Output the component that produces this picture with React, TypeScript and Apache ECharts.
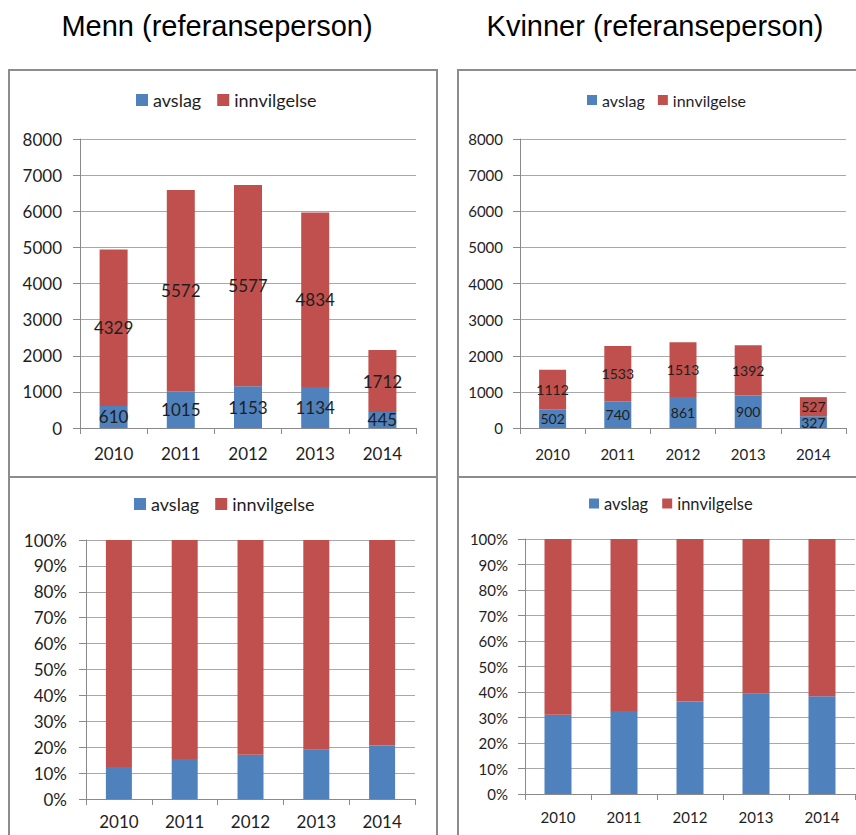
import React, { useEffect, useRef } from "react";
import * as echarts from "echarts";

const years = ["2010", "2011", "2012", "2013", "2014"];
const seriesNames = ["avslag", "innvilgelse"];
const mennAvslag = [610, 1015, 1153, 1134, 445];
const mennInnvilgelse = [4329, 5572, 5577, 4834, 1712];
const kvinnerAvslag = [502, 740, 861, 900, 327];
const kvinnerInnvilgelse = [1112, 1533, 1513, 1392, 527];
const titles = ["Menn (referanseperson)", "Kvinner (referanseperson)"];
const countMax = 8000;
const countStep = 1000;
const pctMax = 100;
const pctStep = 10;

const share = (part: number[], other: number[]) =>
  part.map((v, i) => (v / (v + other[i])) * 100);

const BLUE = "#4F81BD";
const RED = "#C0504D";
const FONT = "Lato";
const TXT = "#1e1e1e";
const AXIS = "#8a8a8a";
const GRIDC = "#a8a8a8";

type Panel = {
  grid: { left: number; top: number; width: number; height: number };
  legend: { left: number; top: number; size: number; gap: number; icon: number };
  fs: number;
  labelFs: number;
  yMargin: number;
  xMargin: number;
  barWidth: number;
  pct: boolean;
  a: number[];
  b: number[];
  labels: boolean;
};

const panels: Panel[] = [
  {
    grid: { left: 80, top: 139, width: 336, height: 289 },
    legend: { left: 136, top: 91, size: 18, gap: 16, icon: 12 },
    fs: 17, labelFs: 17, yMargin: 18, xMargin: 17, barWidth: 28, pct: false,
    a: mennAvslag, b: mennInnvilgelse, labels: true,
  },
  {
    grid: { left: 520, top: 139, width: 326, height: 289 },
    legend: { left: 587, top: 92, size: 16, gap: 13, icon: 10 },
    fs: 15, labelFs: 14, yMargin: 17, xMargin: 18, barWidth: 27, pct: false,
    a: kvinnerAvslag, b: kvinnerInnvilgelse, labels: true,
  },
  {
    grid: { left: 86, top: 540, width: 329, height: 259 },
    legend: { left: 134, top: 495, size: 18, gap: 16, icon: 12 },
    fs: 17, labelFs: 17, yMargin: 19, xMargin: 14, barWidth: 26, pct: true,
    a: mennAvslag, b: mennInnvilgelse, labels: false,
  },
  {
    grid: { left: 525, top: 539, width: 330, height: 255 },
    legend: { left: 589, top: 495, size: 16.5, gap: 14, icon: 10 },
    fs: 15, labelFs: 15, yMargin: 17, xMargin: 15, barWidth: 27, pct: true,
    a: kvinnerAvslag, b: kvinnerInnvilgelse, labels: false,
  },
];

export default function App() {
  const ref = useRef<HTMLDivElement>(null);
  useEffect(() => {
    if (!ref.current) return;
    const chart = echarts.init(ref.current, undefined, { renderer: "svg" });

    const grid = panels.map((p) => ({ ...p.grid, containLabel: false }));
    const legend = panels.map((p) => ({
      data: seriesNames,
      left: p.legend.left,
      top: p.legend.top,
      padding: 0,
      icon: "rect",
      itemWidth: p.legend.icon,
      itemHeight: p.legend.icon,
      itemGap: p.legend.gap,
      textStyle: { fontFamily: FONT, fontSize: p.legend.size, color: TXT },
      selectedMode: false,
    }));
    const xAxis = panels.map((p, i) => ({
      type: "category",
      gridIndex: i,
      data: years,
      boundaryGap: true,
      axisLine: { show: true, lineStyle: { color: AXIS, width: 1 } },
      axisTick: { show: true, length: 6, lineStyle: { color: AXIS } },
      axisLabel: { fontFamily: FONT, fontSize: p.fs, color: TXT, margin: p.xMargin },
      splitLine: { show: false },
    }));
    const yAxis = panels.map((p, i) => ({
      type: "value",
      gridIndex: i,
      min: 0,
      max: p.pct ? pctMax : countMax,
      interval: p.pct ? pctStep : countStep,
      axisLine: { show: true, lineStyle: { color: AXIS, width: 1 } },
      axisTick: { show: true, length: 7, lineStyle: { color: AXIS } },
      axisLabel: {
        fontFamily: FONT,
        fontSize: p.fs,
        color: TXT,
        margin: p.yMargin,
        formatter: (v: number) => (p.pct ? String(v) + "%" : String(v)),
      },
      splitLine: { show: true, lineStyle: { color: GRIDC, width: 1 } },
    }));
    const series: any[] = [];
    panels.forEach((p, i) => {
      const va = p.pct ? share(p.a, p.b) : p.a;
      const vb = p.pct ? share(p.b, p.a) : p.b;
      [va, vb].forEach((vals, k) => {
        series.push({
          type: "bar",
          name: seriesNames[k],
          xAxisIndex: i,
          yAxisIndex: i,
          stack: "s" + i,
          barWidth: p.barWidth,
          data: vals,
          itemStyle: { color: k === 0 ? BLUE : RED },
          label: {
            show: p.labels,
            position: "inside",
            fontFamily: FONT,
            fontSize: p.labelFs,
            lineHeight: p.labelFs,
            color: TXT,
            formatter: (d: any) => String(d.value),
          },
        });
      });
    });

    const borderStyle = { fill: "none", stroke: "#8c8c8c", lineWidth: 2 };
    const graphic: any[] = [
      { type: "rect", shape: { x: 9, y: 70, width: 428, height: 407 }, style: borderStyle, silent: true },
      { type: "rect", shape: { x: 9, y: 477, width: 428, height: 380 }, style: borderStyle, silent: true },
      { type: "rect", shape: { x: 458, y: 70, width: 420, height: 407 }, style: borderStyle, silent: true },
      { type: "rect", shape: { x: 458, y: 477, width: 420, height: 380 }, style: borderStyle, silent: true },
      {
        type: "text", x: 217, y: 26,
        style: { text: titles[0], fontFamily: "Liberation Sans", fontSize: 29, fill: "#000", textAlign: "center", textVerticalAlign: "middle" },
      },
      {
        type: "text", x: 655, y: 26,
        style: { text: titles[1], fontFamily: "Liberation Sans", fontSize: 29, fill: "#000", textAlign: "center", textVerticalAlign: "middle" },
      },
    ];

    chart.setOption({
      animation: false,
      backgroundColor: "#ffffff",
      grid,
      legend,
      xAxis,
      yAxis,
      series,
      graphic,
    });
    return () => chart.dispose();
  }, []);
  return (
    <div
      ref={ref}
      style={{ position: "absolute", left: 0, top: 0, width: 856, height: 835 }}
    />
  );
}
